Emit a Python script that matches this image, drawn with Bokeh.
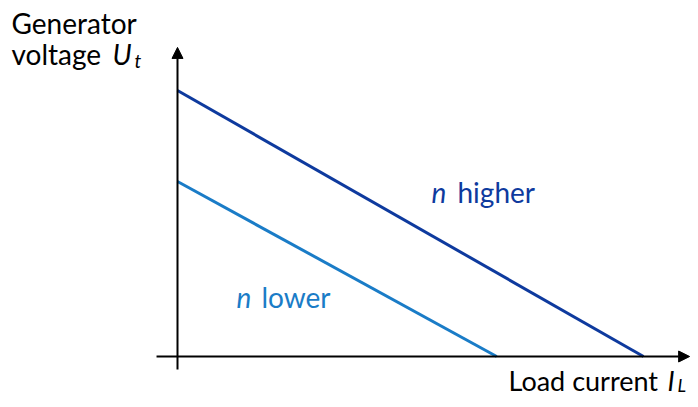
from bokeh.plotting import figure
from bokeh.models import Range1d, Arrow, NormalHead
from bokeh.core.properties import value
from bokeh.embed import file_html
from bokeh.resources import INLINE

# ---- data (arbitrary units) ----
series_names = ["higher", "lower"]
current_high = [0.0, 10.0]
voltage_high = [10.0, 0.0]
current_low = [0.0, 6.85]
voltage_low = [6.58, 0.0]

x_label = "Load current"
x_label_sym = "I"
x_label_sub = "L"
y_label_line1 = "Generator"
y_label_line2 = "voltage"
y_label_sym = "U"
y_label_sub = "t"

DARK = "#0E3A9E"
LIGHT = "#1A7CC7"
FONT = "Lato"

W, H = 690, 399
# pixel scale: origin at figure px (177, 356)
sx, sy = 46.6, 26.6
ox, oy = 177.0, 356.0
BASE_FIX = 10  # svg baseline compensation

p = figure(width=W, height=H, output_backend="svg", toolbar_location=None,
           x_range=Range1d(-ox / sx, (W - ox) / sx),
           y_range=Range1d(-(H - oy) / sy, oy / sy),
           min_border=0, outline_line_color=None)
p.axis.visible = False
p.grid.visible = False
p.background_fill_color = "white"
p.border_fill_color = "white"

# axes with arrow heads
p.add_layout(Arrow(end=NormalHead(size=11, fill_color="black", line_color="black", line_width=1),
                   x_start=-0.45, y_start=0, x_end=10.99, y_end=0,
                   line_color="black", line_width=2))
p.add_layout(Arrow(end=NormalHead(size=11, fill_color="black", line_color="black", line_width=1),
                   x_start=0, y_start=-0.49, x_end=0, y_end=11.62,
                   line_color="black", line_width=2))

# characteristic lines
p.line(current_high, voltage_high, line_color=DARK, line_width=3)
p.line(current_low, voltage_low, line_color=LIGHT, line_width=3)

def px(x):
    return (x - ox) / sx

def py(y):
    return (oy - (y - BASE_FIX)) / sy

def label(x, y, txt, size, color="black", style="normal"):
    p.text(x=[px(x)], y=[py(y)], text=[txt], text_font=value(FONT),
           text_font_size=value(f"{size}px"), text_color=color,
           text_font_style=style, text_align="left", text_baseline="alphabetic")

# series labels
label(431, 201, "n", 28, DARK, "italic")
label(457, 201, series_names[0], 28, DARK)
label(236, 306, "n", 28, LIGHT, "italic")
label(261, 306, series_names[1], 28, LIGHT)

# y axis title
label(11, 32, y_label_line1, 28)
label(11, 63, y_label_line2, 28)
label(112, 63, y_label_sym, 28, style="italic")
label(134, 70, y_label_sub, 19, style="italic")

# x axis title
label(508, 390, x_label, 27)
label(667, 390, x_label_sym, 27, style="italic")
label(677, 394, x_label_sub, 18, style="italic")

open("out.html", "w").write(file_html(p, INLINE))
